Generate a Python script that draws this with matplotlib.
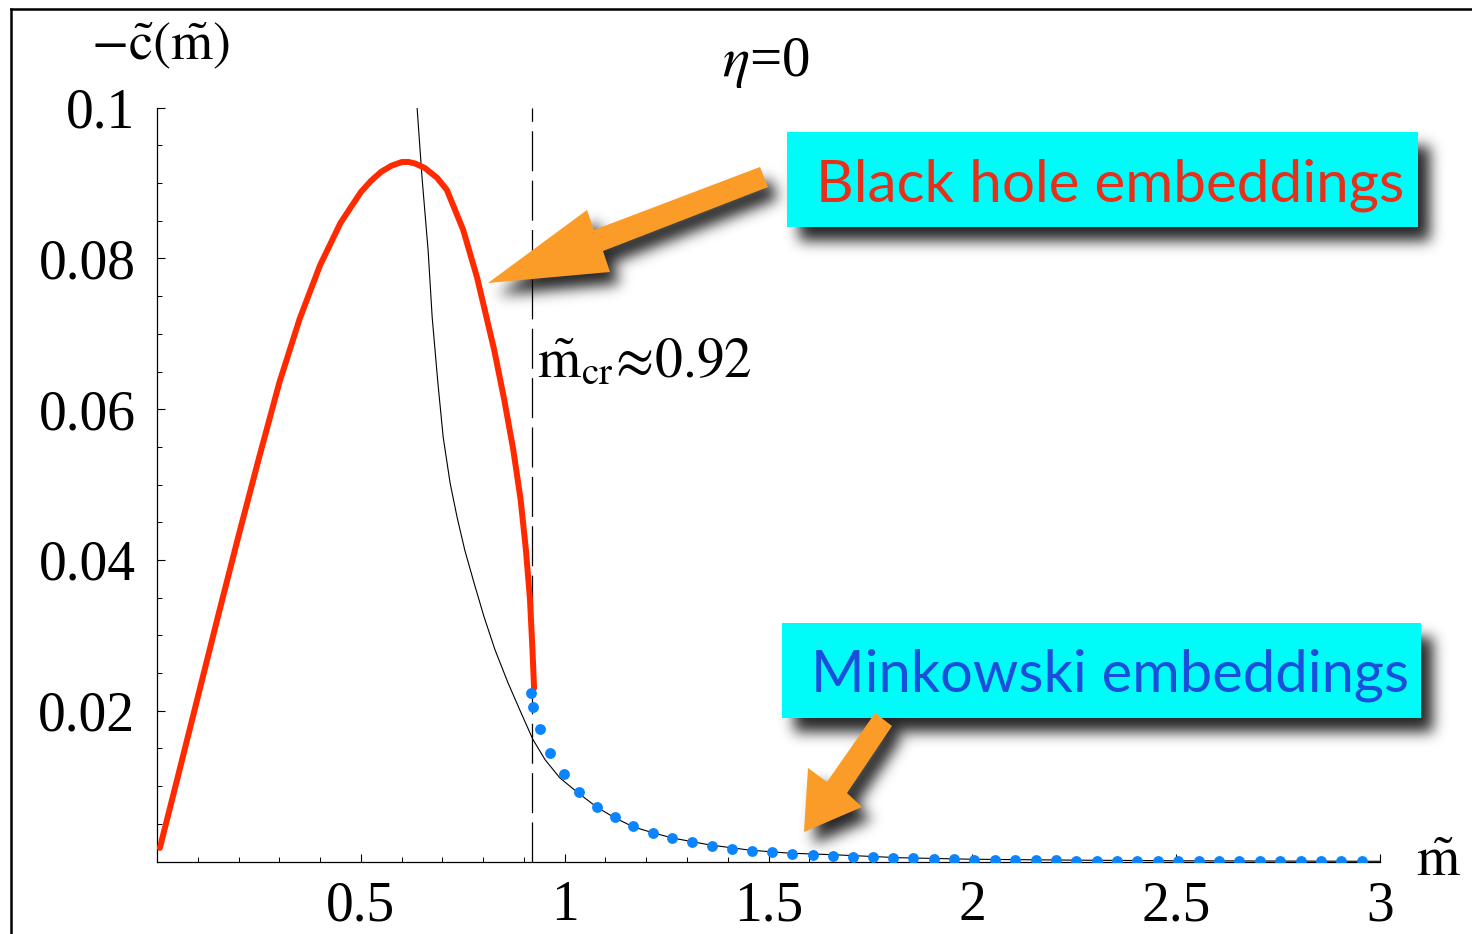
import numpy as np
import matplotlib
matplotlib.use("Agg")
import matplotlib.pyplot as plt
from matplotlib.patches import Polygon, Rectangle
from matplotlib.path import Path
from matplotlib.ticker import MultipleLocator, FixedLocator, FixedFormatter

plt.rcParams['font.family'] = ['Liberation Serif', 'DejaVu Serif']
plt.rcParams['mathtext.fontset'] = 'stix'

# ---- data -------------------------------------------------------------
# black hole embeddings (thick red branch)
bh_m = [0.007, 0.05, 0.1, 0.15, 0.2, 0.25, 0.3, 0.35, 0.4, 0.45, 0.5, 0.525, 0.55,
        0.575, 0.601, 0.617, 0.633, 0.657, 0.687, 0.711, 0.751, 0.785, 0.827, 0.852,
        0.874, 0.892, 0.905, 0.915, 0.921, 0.925]
bh_c = [0.0018, 0.0110, 0.0218, 0.0326, 0.0432, 0.0535, 0.0635, 0.0720, 0.0791, 0.0847,
        0.0888, 0.0903, 0.0915, 0.0923, 0.0928, 0.0928, 0.0926, 0.0920, 0.0907, 0.0891,
        0.0838, 0.0775, 0.0679, 0.0612, 0.0546, 0.0480, 0.0413, 0.0347, 0.0281, 0.0230]

# Minkowski embeddings (blue dots)
mk_m = [0.917, 0.922, 0.939, 0.964, 0.998, 1.035, 1.079, 1.123, 1.168, 1.217,
        1.263, 1.312, 1.361, 1.410, 1.459, 1.508, 1.557, 1.609, 1.658, 1.707,
        1.756, 1.805, 1.855, 1.905, 1.955, 2.005, 2.055, 2.105, 2.155, 2.205,
        2.255, 2.305, 2.355, 2.405, 2.455, 2.505, 2.555, 2.605, 2.655, 2.705,
        2.755, 2.805, 2.855, 2.905, 2.955]
mk_c = [0.02235, 0.0205, 0.01758, 0.01439, 0.01161, 0.00922, 0.00723, 0.00590, 0.00471, 0.00378,
        0.00312, 0.00259, 0.00206, 0.00166, 0.00139, 0.00126, 0.00099, 0.00086, 0.00073, 0.00060,
        0.00060, 0.00046, 0.00040, 0.00035, 0.00030, 0.00026, 0.00022, 0.00019, 0.00016, 0.00014,
        0.00012, 0.00010, 0.00009, 0.00008, 0.00007, 0.00006, 0.00005, 0.00004, 0.00004, 0.00003,
        0.00003, 0.00002, 0.00002, 0.00002, 0.00001]

# thin black reference curve
ref_m = [0.638, 0.650, 0.665, 0.675, 0.689, 0.702, 0.719, 0.736, 0.755, 0.778,
         0.802, 0.829, 0.861, 0.890, 0.922, 0.952, 0.988, 1.033, 1.079, 1.123,
         1.168, 1.217, 1.266, 1.356, 1.455, 1.553, 1.658, 1.822, 2.0, 2.25,
         2.5, 2.75, 3.0]
ref_c = [0.1, 0.0908, 0.0811, 0.0722, 0.0635, 0.0563, 0.0502, 0.0457, 0.0413, 0.0369,
         0.0325, 0.0281, 0.0237, 0.0201, 0.0162, 0.0135, 0.0111, 0.0091, 0.0072, 0.0058,
         0.0046, 0.0038, 0.0031, 0.0022, 0.0015, 0.0011, 0.0009, 0.0005, 0.0003, 0.00018,
         0.0001, 0.00006, 0.00003]

m_cr = 0.92

x_ticks = [0.5, 1, 1.5, 2, 2.5, 3]
x_tick_labels = ["0.5", "1", "1.5", "2", "2.5", "3"]
y_ticks = [0.02, 0.04, 0.06, 0.08, 0.1]
y_tick_labels = ["0.02", "0.04", "0.06", "0.08", "0.1"]

# ---- figure -----------------------------------------------------------
W, H = 1472, 934
fig = plt.figure(figsize=(W / 100, H / 100), dpi=100)
fig.patch.set_facecolor('white')

ax = fig.add_axes([157 / W, 1 - 861.5 / H, (1380 - 157) / W, (861.5 - 107.7) / H], zorder=1)
ax.set_xlim(0, 3)
ax.set_ylim(0, 0.1)
for s in ('top', 'right'):
    ax.spines[s].set_visible(False)
for s in ('left', 'bottom'):
    ax.spines[s].set_linewidth(0.9)
ax.patch.set_alpha(0)

ax.plot(ref_m, ref_c, color='black', lw=0.8, zorder=2)
ax.axvline(m_cr, color='black', lw=0.9, dashes=(32, 7.5), zorder=2)
ax.plot(bh_m, bh_c, color='#FF2A00', lw=4.3, solid_capstyle='round',
        solid_joinstyle='round', zorder=3)
ax.plot(mk_m, mk_c, 'o', ms=7.8, color='#0A84FF', mec='none', zorder=4)

ax.xaxis.set_major_locator(FixedLocator(x_ticks))
ax.xaxis.set_major_formatter(FixedFormatter(x_tick_labels))
ax.yaxis.set_major_locator(FixedLocator(y_ticks))
ax.yaxis.set_major_formatter(FixedFormatter(y_tick_labels))
ax.xaxis.set_minor_locator(MultipleLocator(0.1))
ax.yaxis.set_minor_locator(MultipleLocator(0.005))
ax.tick_params(which='major', direction='in', length=5.8, width=0.8, labelsize=40)
ax.tick_params(which='minor', direction='in', length=3.8, width=0.7)
ax.tick_params(axis='y', which='major', pad=15.5)
ax.tick_params(axis='x', which='major', pad=13.5)

# ---- overlay in pixel coordinates (callouts, shadows, labels) ---------
ov = fig.add_axes([0, 0, 1, 1], zorder=5)
ov.set_xlim(0, W)
ov.set_ylim(H, 0)
ov.axis('off')
ov.patch.set_alpha(0)

box_bh = (787, 132, 1418, 227)
box_mk = (782, 623, 1421, 718)
arrow_bh = [(488, 283), (587, 210), (594, 230), (760, 167), (768, 187), (603, 251), (610, 272)]
arrow_mk = [(804, 832), (808, 768), (827, 782), (875, 713), (892, 726), (847, 793), (862, 807)]


def rect_verts(b):
    x0, y0, x1, y1 = b
    return [(x0, y0), (x1, y0), (x1, y1), (x0, y1)]


def fill_poly(mask, verts, dx, dy):
    v = np.array(verts, float) + [dx, dy]
    x0, y0 = np.floor(v.min(0)).astype(int)
    x1, y1 = np.ceil(v.max(0)).astype(int) + 1
    x0, y0 = max(x0, 0), max(y0, 0)
    x1, y1 = min(x1, W), min(y1, H)
    yy, xx = np.mgrid[y0:y1, x0:x1]
    pts = np.column_stack([xx.ravel() + 0.5, yy.ravel() + 0.5])
    inside = Path(v).contains_points(pts).reshape(yy.shape)
    mask[y0:y1, x0:x1] = np.maximum(mask[y0:y1, x0:x1], inside.astype(float))


def blur(a, sigma):
    r = int(3 * sigma)
    k = np.exp(-0.5 * (np.arange(-r, r + 1) / sigma) ** 2)
    k /= k.sum()
    p = np.pad(a, ((0, 0), (r, r)))
    out = np.zeros_like(a)
    for i in range(2 * r + 1):
        out += k[i] * p[:, i:i + a.shape[1]]
    p = np.pad(out, ((r, r), (0, 0)))
    out2 = np.zeros_like(a)
    for i in range(2 * r + 1):
        out2 += k[i] * p[i:i + a.shape[0], :]
    return out2


mask = np.zeros((H, W))
fill_poly(mask, rect_verts(box_bh), 12, 14)
fill_poly(mask, rect_verts(box_mk), 12, 14)
fill_poly(mask, arrow_bh, 10, 12)
fill_poly(mask, arrow_mk, 10, 12)
mask = blur(mask, 7)
shadow = np.zeros((H, W, 4))
shadow[..., 3] = np.clip(mask * 0.85, 0, 1)
ov.imshow(shadow, extent=(0, W, H, 0), aspect='auto', interpolation='bilinear', zorder=1)

for b in (box_bh, box_mk):
    ov.add_patch(Rectangle((b[0], b[1]), b[2] - b[0], b[3] - b[1],
                           facecolor='#00FCF8', edgecolor='none', zorder=2))
for a in (arrow_bh, arrow_mk):
    ov.add_patch(Polygon(a, closed=True, facecolor='#FB9B28', edgecolor='none', zorder=3))

ov.text(1110, 201, "Black hole embeddings", color='#E5301C', fontsize=42,
        family=['Lato', 'DejaVu Sans'], ha='center', va='baseline', zorder=4)
ov.text(1110, 692, "Minkowski embeddings", color='#1A4FDC', fontsize=41.7,
        family=['Lato', 'DejaVu Sans'], ha='center', va='baseline', zorder=4)

# figure frame (top and left edges)
ov.plot([11, 11], [9, H + 5], color='black', lw=1.8, zorder=6, clip_on=False)
ov.plot([11, W + 5], [9, 9], color='black', lw=1.8, zorder=6, clip_on=False)

# axis labels and annotations
fig.text(91 / W, 1 - 60 / H, r"$-\tilde{\mathrm{c}}(\tilde{\mathrm{m}})$", fontsize=39,
         ha='left', va='baseline')
fig.text(722 / W, 1 - 76 / H, r"$\eta$=0", fontsize=41, ha='left', va='baseline')
fig.text(537 / W, 1 - 377 / H, r"$\tilde{\mathrm{m}}_{\mathrm{cr}}\!\approx\!0.92$",
         fontsize=40, ha='left', va='baseline')
fig.text(1416 / W, 1 - 876 / H, r"$\tilde{\mathrm{m}}$", fontsize=40, ha='left', va='baseline')

fig.savefig("out.png", dpi=100, facecolor='white')
